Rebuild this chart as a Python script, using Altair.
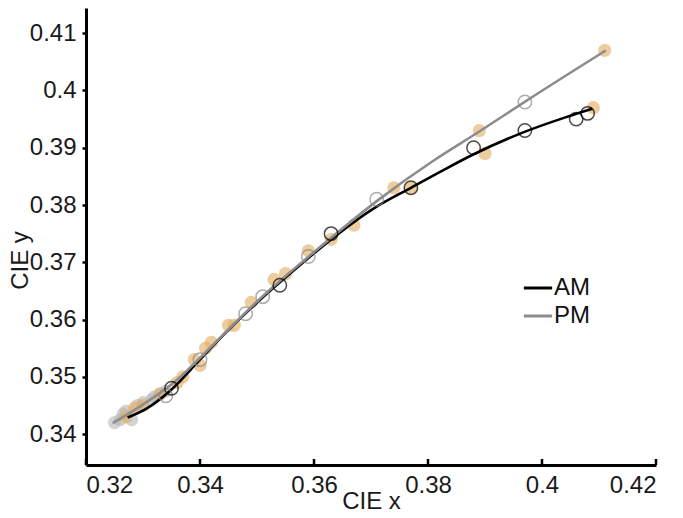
import altair as alt
import pandas as pd

# ---- data ----
x_ticks = [0.32, 0.34, 0.36, 0.38, 0.40, 0.42]
y_ticks = [0.34, 0.35, 0.36, 0.37, 0.38, 0.39, 0.40, 0.41]

# fitted curves
am_line_x = [0.3273, 0.3307, 0.3349, 0.3399, 0.3452, 0.3506, 0.3552, 0.3598, 0.3643, 0.3705, 0.3770, 0.3827, 0.3881, 0.3965, 0.4041, 0.4088]
am_line_y = [0.3429, 0.3445, 0.3477, 0.3529, 0.3584, 0.3635, 0.3675, 0.3714, 0.3750, 0.3794, 0.3830, 0.3861, 0.3889, 0.3926, 0.3953, 0.3968]
pm_line_x = [0.3247, 0.3299, 0.3353, 0.3399, 0.3452, 0.3506, 0.3598, 0.3713, 0.3812, 0.3888, 0.3971, 0.4112]
pm_line_y = [0.3419, 0.3451, 0.3489, 0.3532, 0.3585, 0.3637, 0.3716, 0.3809, 0.3879, 0.3927, 0.3981, 0.4070]

# open circles
am_open_x = [0.335, 0.354, 0.363, 0.377, 0.388, 0.397, 0.406, 0.408]
am_open_y = [0.348, 0.366, 0.375, 0.383, 0.390, 0.393, 0.395, 0.396]
pm_open_x = [0.334, 0.340, 0.348, 0.351, 0.359, 0.371, 0.397]
pm_open_y = [0.3467, 0.353, 0.361, 0.364, 0.371, 0.381, 0.398]

# filled dots
tan_x = [0.327, 0.3285, 0.330, 0.333, 0.336, 0.337, 0.339, 0.340, 0.341, 0.342, 0.345, 0.346, 0.349, 0.353, 0.355, 0.359, 0.363, 0.367, 0.374, 0.377, 0.389, 0.390, 0.409, 0.411]
tan_y = [0.343, 0.3445, 0.345, 0.347, 0.349, 0.350, 0.353, 0.352, 0.355, 0.356, 0.359, 0.359, 0.363, 0.367, 0.368, 0.372, 0.374, 0.3765, 0.383, 0.383, 0.393, 0.389, 0.397, 0.407]
grey_x = [0.325, 0.326, 0.3265, 0.327, 0.328, 0.329, 0.330, 0.3315, 0.332, 0.333, 0.334]
grey_y = [0.342, 0.3425, 0.3435, 0.344, 0.3425, 0.345, 0.3455, 0.346, 0.3465, 0.347, 0.3475]

W, H = 570, 457
FONT = "Liberation Sans"
FS = 24

lines = pd.DataFrame(
    {"x": am_line_x + pm_line_x,
     "y": am_line_y + pm_line_y,
     "s": ["AM"] * len(am_line_x) + ["PM"] * len(pm_line_x)}
)
tan = pd.DataFrame({"x": tan_x, "y": tan_y})
grey = pd.DataFrame({"x": grey_x, "y": grey_y})
am_open = pd.DataFrame({"x": am_open_x, "y": am_open_y})
pm_open = pd.DataFrame({"x": pm_open_x, "y": pm_open_y})
xt = pd.DataFrame({"x": x_ticks})

xs = alt.Scale(domain=[0.32, 0.42], nice=False, zero=False)
ys = alt.Scale(domain=[0.3346, 0.4144], nice=False, zero=False)

X = alt.X("x:Q", scale=xs, title="CIE x",
          axis=alt.Axis(values=x_ticks, format=".2~f", tickSize=0, labelPadding=8,
                        titleY=43, titleBaseline="alphabetic"))
Y = alt.Y("y:Q", scale=ys, title="CIE y",
          axis=alt.Axis(values=y_ticks, format=".2~f", tickSize=4, labelPadding=6,
                        titleX=-59, titleY=252, titleBaseline="alphabetic", titleAlign="center"))

grey_pts = alt.Chart(grey).mark_circle(color="#b5b5b5", opacity=0.6, size=170).encode(x=X, y=Y)
tan_pts = alt.Chart(tan).mark_circle(color="#e2ad62", opacity=0.62, size=175).encode(x="x:Q", y="y:Q")

line_layer = alt.Chart(lines).mark_line(strokeWidth=2.6, interpolate="monotone").encode(
    x="x:Q", y="y:Q",
    color=alt.Color("s:N", scale=alt.Scale(domain=["AM", "PM"], range=["#000000", "#8c8c8c"]),
                    legend=alt.Legend(orient="none", legendX=436, legendY=264, title=None,
                                      symbolType="stroke", symbolSize=800, symbolStrokeWidth=3,
                                      labelFontSize=FS, labelFont=FONT, labelColor="#111111",
                                      rowPadding=0, labelOffset=0)),
)

pm_circ = alt.Chart(pm_open).mark_point(shape="circle", filled=False, color="#8a8a8a",
                                         strokeWidth=1.5, size=180).encode(x="x:Q", y="y:Q")
am_circ = alt.Chart(am_open).mark_point(shape="circle", filled=False, color="#000000",
                                         strokeWidth=1.5, size=180).encode(x="x:Q", y="y:Q")

xtick_layer = alt.Chart(xt).mark_rule(color="black", strokeWidth=2.5).encode(
    x="x:Q", y=alt.value(H - 6), y2=alt.value(H))

chart = alt.layer(grey_pts, tan_pts, line_layer, pm_circ, am_circ, xtick_layer).properties(
    width=W, height=H,
    padding={"left": 86, "top": 8, "right": 27, "bottom": 53},
    autosize=alt.AutoSizeParams(type="none"),
).configure_view(stroke=None).configure_axis(
    grid=False, domainColor="black", domainWidth=3, tickColor="black", tickWidth=2.5,
    labelFont=FONT, labelFontSize=FS, labelColor="#1a1a1a",
    titleFont=FONT, titleFontSize=FS, titleFontWeight="normal", titleColor="#1a1a1a",
)

chart.save("out.html", embed_options={"renderer": "svg", "actions": False})
